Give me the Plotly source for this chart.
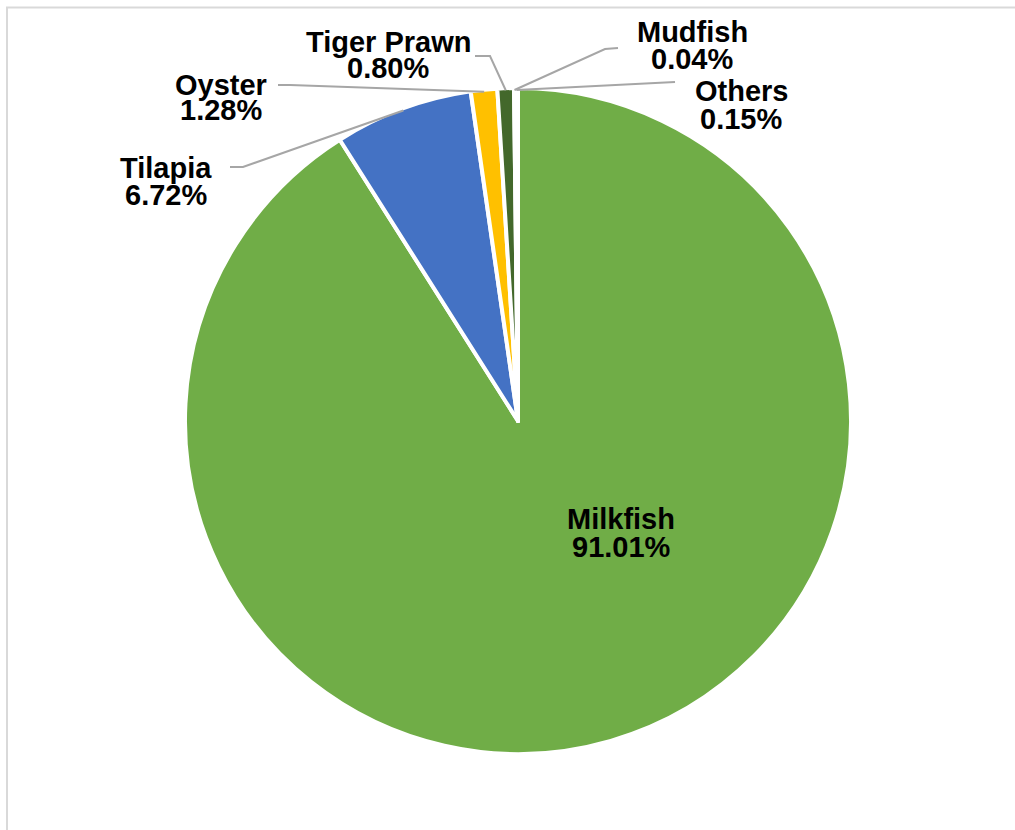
import plotly.graph_objects as go
import math

# ---- data ----
species = ["Milkfish", "Tilapia", "Oyster", "Tiger Prawn", "Mudfish", "Others"]
shares = [91.01, 6.72, 1.28, 0.80, 0.04, 0.15]
colors = ["#70AD47", "#4472C4", "#FFC000", "#43682B", "#255E91", "#997300"]

W, H = 1015, 830

def px(x):
    return x / W

def py(y):
    return 1 - y / H

# pie geometry in pixels
CX, CY, R_VIS, STROKE = 518, 421, 331, 4
R = R_VIS + STROKE / 2

fig = go.Figure(go.Pie(
    labels=species,
    values=shares,
    sort=False,
    direction="clockwise",
    rotation=0,
    marker=dict(colors=colors, line=dict(color="white", width=STROKE)),
    textinfo="none",
    hoverinfo="label+percent",
    showlegend=False,
    domain=dict(x=[px(CX - R), px(CX + R)], y=[py(CY + R), py(CY - R)]),
))

# label placement (pixel centres of the two text lines) and leader-line bends
label_pos = {
    "Milkfish": (621, 517, 545),
    "Tilapia": (166, 166, 193),
    "Oyster": (221, 83, 108),
    "Tiger Prawn": (388, 40, 66),
    "Mudfish": (692, 30, 57),
    "Others": (741, 89, 117),
}
leader_bends = {
    "Tilapia": [(230, 167), (243, 167)],
    "Oyster": [(278, 85), (290, 85)],
    "Tiger Prawn": [(475, 56), (490, 56)],
    "Mudfish": [(618, 48), (605, 49)],
    "Others": [(675, 82)],
}

font = dict(family="Liberation Sans, Arial, sans-serif", size=29, color="black")
annotations = []
shapes = []
total = sum(shares)
cum = 0.0
for name, v in zip(species, shares):
    mid = (cum + v / 2) / total * 2 * math.pi
    cum += v
    lx, y1, y2 = label_pos[name]
    for txt, yy in ((name, y1), (f"{v:.2f}%", y2)):
        annotations.append(dict(
            x=px(lx), y=py(yy + 2), xref="paper", yref="paper",
            text=f"<b>{txt}</b>", showarrow=False, font=font,
            xanchor="center", yanchor="middle",
        ))
    if name in leader_bends:
        ex = CX + R_VIS * math.sin(mid)
        ey = CY - R_VIS * math.cos(mid)
        pts = leader_bends[name] + [(ex, ey)]
        path = "M " + " L ".join(f"{px(a)},{py(b)}" for a, b in pts)
        shapes.append(dict(type="path", path=path, xref="paper", yref="paper",
                           line=dict(color="#A6A6A6", width=2)))

# chart frame
shapes.append(dict(type="rect", xref="paper", yref="paper",
                   x0=px(7), x1=px(W + 20), y0=py(H + 20), y1=py(7.5),
                   line=dict(color="#D9D9D9", width=2), layer="below"))

fig.update_layout(
    width=W, height=H,
    margin=dict(l=0, r=0, t=0, b=0),
    paper_bgcolor="white", plot_bgcolor="white",
    annotations=annotations, shapes=shapes,
)

fig.write_html("out.html")
